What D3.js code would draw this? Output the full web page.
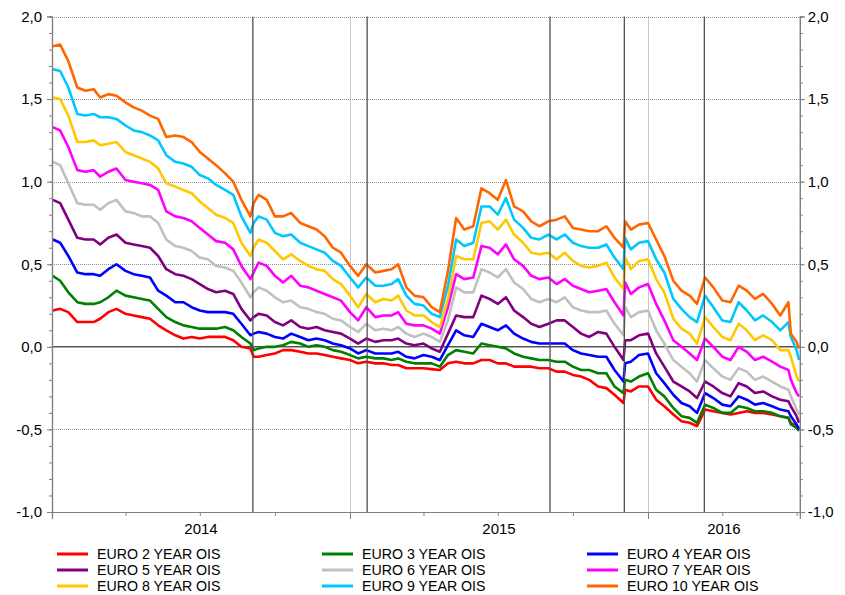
<!DOCTYPE html>
<html>
<head>
<meta charset="utf-8">
<script src="https://cdn.jsdelivr.net/npm/d3@7"></script>
<style>
body { margin:0; background:#fff; }
svg { font-family: "Liberation Sans", Arial, sans-serif; }
</style>
</head>
<body>
<svg class="svg"></svg>
<script>
let dates = ["2014-01-02","2014-01-11","2014-01-21","2014-02-01","2014-02-11","2014-02-21","2014-03-01","2014-03-11","2014-03-21",
  "2014-04-01","2014-04-11","2014-04-21","2014-05-01","2014-05-11","2014-05-21","2014-06-01","2014-06-11","2014-06-21",
  "2014-07-01","2014-07-11","2014-07-21","2014-08-01","2014-08-11","2014-08-21","2014-09-01","2014-09-05","2014-09-11","2014-09-21",
  "2014-10-01","2014-10-11","2014-10-21","2014-11-01","2014-11-11","2014-11-21","2014-12-01","2014-12-11","2014-12-21",
  "2015-01-01","2015-01-11","2015-01-21","2015-02-01","2015-02-11","2015-02-21","2015-03-01","2015-03-11","2015-03-21",
  "2015-04-01","2015-04-11","2015-04-21","2015-05-01","2015-05-11","2015-05-21","2015-06-01","2015-06-11","2015-06-21",
  "2015-07-01","2015-07-11","2015-07-21","2015-08-01","2015-08-11","2015-08-21","2015-09-01","2015-09-11","2015-09-21",
  "2015-10-01","2015-10-11","2015-10-21","2015-11-01","2015-11-11","2015-11-21","2015-12-02","2015-12-04","2015-12-11","2015-12-21",
  "2016-01-01","2016-01-11","2016-01-21","2016-02-01","2016-02-11","2016-02-21","2016-03-01","2016-03-11","2016-03-21",
  "2016-04-01","2016-04-11","2016-04-21","2016-05-01","2016-05-11","2016-05-21","2016-06-01","2016-06-11","2016-06-21","2016-06-24",
  "2016-07-01","2016-07-04"]

let ois2 = [0.22,0.23,0.21,0.15,0.15,0.15,0.17,0.21,0.23,0.20,0.19,0.18,0.17,0.13,0.10,0.07,
  0.05,0.06,0.05,0.06,0.06,0.06,0.04,0.00,-0.01,-0.06,-0.06,-0.05,-0.04,-0.02,-0.02,-0.03,
  -0.04,-0.04,-0.05,-0.06,-0.07,-0.08,-0.10,-0.09,-0.10,-0.10,-0.11,-0.11,-0.13,-0.13,-0.13,
  -0.135,-0.14,-0.10,-0.09,-0.10,-0.10,-0.08,-0.08,-0.10,-0.10,-0.12,-0.12,-0.12,-0.13,-0.13,
  -0.15,-0.15,-0.17,-0.18,-0.20,-0.24,-0.25,-0.29,-0.34,-0.26,-0.27,-0.24,-0.24,-0.32,-0.36,-0.41,
  -0.45,-0.46,-0.48,-0.38,-0.39,-0.40,-0.41,-0.40,-0.39,-0.40,-0.40,-0.41,-0.42,-0.43,-0.46,-0.48,-0.49]
let ois3 = [0.43,0.40,0.33,0.27,0.26,0.26,0.27,0.30,0.34,0.31,0.30,0.29,0.28,0.23,0.18,0.15,
  0.13,0.12,0.11,0.11,0.11,0.12,0.10,0.06,0.02,-0.02,-0.01,0.00,0.00,0.01,0.03,0.02,
  0.00,0.01,0.00,-0.02,-0.03,-0.05,-0.07,-0.06,-0.07,-0.07,-0.08,-0.07,-0.09,-0.10,-0.10,
  -0.10,-0.12,-0.05,-0.02,-0.03,-0.04,0.02,0.01,0.00,-0.01,-0.04,-0.06,-0.07,-0.08,-0.08,
  -0.09,-0.09,-0.12,-0.14,-0.14,-0.16,-0.16,-0.24,-0.28,-0.20,-0.21,-0.18,-0.16,-0.26,-0.30,-0.37,
  -0.42,-0.43,-0.46,-0.35,-0.37,-0.40,-0.40,-0.36,-0.37,-0.39,-0.39,-0.40,-0.42,-0.43,-0.47,-0.49,-0.51]
let ois4 = [0.65,0.63,0.55,0.45,0.44,0.44,0.43,0.47,0.50,0.46,0.44,0.43,0.42,0.34,0.31,0.27,
  0.27,0.24,0.22,0.21,0.21,0.21,0.20,0.14,0.07,0.08,0.09,0.08,0.06,0.05,0.08,0.06,
  0.04,0.05,0.04,0.02,0.01,-0.01,-0.04,-0.02,-0.04,-0.04,-0.04,-0.03,-0.06,-0.07,-0.05,
  -0.06,-0.08,0.01,0.10,0.07,0.06,0.14,0.12,0.10,0.13,0.08,0.05,0.03,0.02,0.02,
  0.02,0.02,-0.02,-0.04,-0.05,-0.06,-0.06,-0.14,-0.21,-0.10,-0.09,-0.05,-0.04,-0.16,-0.22,-0.29,
  -0.34,-0.36,-0.40,-0.28,-0.31,-0.35,-0.36,-0.30,-0.32,-0.35,-0.34,-0.36,-0.38,-0.39,-0.42,-0.47,-0.50]
let ois5 = [0.89,0.87,0.77,0.66,0.65,0.65,0.62,0.66,0.68,0.63,0.62,0.61,0.60,0.55,0.47,0.44,
  0.43,0.41,0.38,0.35,0.33,0.34,0.32,0.23,0.16,0.18,0.20,0.19,0.15,0.13,0.16,0.12,
  0.11,0.12,0.10,0.09,0.08,0.05,0.02,0.05,0.03,0.04,0.04,0.05,0.02,0.01,0.02,
  -0.01,-0.03,0.08,0.19,0.18,0.18,0.31,0.29,0.26,0.30,0.22,0.18,0.14,0.12,0.14,
  0.16,0.16,0.12,0.08,0.06,0.09,0.08,0.00,-0.08,0.04,0.04,0.07,0.08,-0.04,-0.12,-0.21,
  -0.24,-0.27,-0.31,-0.21,-0.24,-0.28,-0.30,-0.22,-0.24,-0.28,-0.27,-0.30,-0.32,-0.33,-0.36,-0.42,-0.46]
let ois6 = [1.12,1.10,0.99,0.87,0.86,0.86,0.83,0.87,0.89,0.82,0.81,0.79,0.79,0.75,0.65,0.61,
  0.60,0.58,0.54,0.53,0.49,0.48,0.46,0.39,0.30,0.33,0.36,0.34,0.30,0.27,0.28,0.24,
  0.23,0.21,0.20,0.17,0.16,0.12,0.09,0.14,0.10,0.11,0.10,0.12,0.08,0.06,0.08,
  0.06,0.03,0.16,0.36,0.33,0.33,0.47,0.45,0.42,0.47,0.39,0.35,0.29,0.27,0.29,
  0.27,0.30,0.24,0.22,0.21,0.21,0.22,0.14,0.07,0.24,0.18,0.21,0.22,0.10,0.02,-0.08,
  -0.12,-0.16,-0.21,-0.08,-0.13,-0.18,-0.20,-0.13,-0.15,-0.20,-0.18,-0.21,-0.24,-0.26,-0.30,-0.38,-0.41]
let ois7 = [1.33,1.31,1.21,1.07,1.06,1.07,1.03,1.06,1.08,1.01,1.00,0.99,0.98,0.95,0.82,0.79,
  0.78,0.76,0.72,0.68,0.64,0.63,0.59,0.49,0.41,0.45,0.51,0.49,0.43,0.39,0.43,0.37,
  0.36,0.34,0.32,0.30,0.28,0.21,0.16,0.24,0.18,0.19,0.19,0.21,0.14,0.13,0.13,
  0.11,0.08,0.24,0.44,0.41,0.42,0.61,0.60,0.56,0.62,0.53,0.49,0.43,0.41,0.42,
  0.38,0.41,0.37,0.35,0.33,0.34,0.35,0.27,0.19,0.39,0.32,0.36,0.38,0.26,0.16,0.04,
  0.00,-0.04,-0.08,0.05,0.00,-0.06,-0.08,0.00,-0.03,-0.08,-0.06,-0.09,-0.12,-0.14,-0.20,-0.28,-0.30]
let ois8 = [1.51,1.50,1.40,1.24,1.24,1.25,1.22,1.23,1.24,1.18,1.16,1.14,1.12,1.08,0.99,0.97,
  0.95,0.93,0.88,0.84,0.80,0.78,0.75,0.63,0.55,0.60,0.65,0.63,0.58,0.53,0.56,0.52,
  0.49,0.47,0.46,0.41,0.38,0.31,0.24,0.32,0.27,0.29,0.28,0.31,0.22,0.19,0.19,
  0.15,0.12,0.29,0.55,0.53,0.53,0.75,0.76,0.71,0.77,0.68,0.63,0.57,0.56,0.57,
  0.53,0.57,0.52,0.49,0.48,0.49,0.51,0.42,0.35,0.54,0.47,0.52,0.53,0.41,0.33,0.17,
  0.11,0.08,0.02,0.18,0.12,0.06,0.04,0.14,0.10,0.04,0.07,0.04,-0.02,-0.02,-0.06,-0.18,-0.21]
let ois9 = [1.68,1.67,1.57,1.41,1.40,1.41,1.39,1.39,1.38,1.34,1.31,1.30,1.28,1.25,1.16,1.12,
  1.11,1.09,1.04,1.02,0.98,0.95,0.92,0.79,0.69,0.75,0.79,0.77,0.69,0.67,0.68,0.63,
  0.61,0.59,0.57,0.52,0.49,0.42,0.36,0.42,0.37,0.37,0.38,0.41,0.31,0.26,0.25,
  0.20,0.18,0.37,0.65,0.61,0.63,0.85,0.85,0.80,0.90,0.77,0.72,0.66,0.65,0.68,
  0.65,0.68,0.63,0.61,0.60,0.60,0.62,0.54,0.47,0.66,0.59,0.63,0.64,0.53,0.45,0.29,
  0.23,0.18,0.15,0.31,0.24,0.16,0.15,0.27,0.22,0.16,0.19,0.15,0.10,0.15,0.06,-0.02,-0.08]
let ois10 = [1.82,1.83,1.73,1.57,1.55,1.56,1.51,1.53,1.52,1.48,1.45,1.43,1.40,1.38,1.27,1.28,
  1.27,1.24,1.18,1.14,1.10,1.05,1.00,0.89,0.79,0.87,0.92,0.89,0.79,0.79,0.81,0.75,
  0.73,0.71,0.67,0.60,0.57,0.49,0.43,0.50,0.45,0.46,0.47,0.50,0.36,0.31,0.30,
  0.24,0.21,0.46,0.78,0.71,0.73,0.96,0.93,0.89,1.01,0.85,0.82,0.76,0.73,0.76,
  0.77,0.79,0.72,0.71,0.70,0.70,0.73,0.66,0.60,0.76,0.71,0.74,0.75,0.65,0.55,0.40,
  0.34,0.31,0.26,0.42,0.36,0.28,0.27,0.37,0.34,0.29,0.32,0.26,0.19,0.27,0.08,0.03,-0.01]

let seriesNames = ["EURO 2 YEAR OIS","EURO 3 YEAR OIS","EURO 4 YEAR OIS","EURO 5 YEAR OIS","EURO 6 YEAR OIS",
  "EURO 7 YEAR OIS","EURO 8 YEAR OIS","EURO 9 YEAR OIS","EURO 10 YEAR OIS"]
let seriesValues = [ois2, ois3, ois4, ois5, ois6, ois7, ois8, ois9, ois10]
let colorArr = ["#ff0000","#008000","#0000ff","#800080","#c0c0c0","#ff00ff","#ffc800","#00c8ff","#ff6600"]
let eventDates = ["2014-09-04","2015-01-22","2015-09-03","2015-12-03","2016-03-10"]
let yTicks = [-1,-0.5,0,0.5,1,1.5,2]
let years = [2014, 2015, 2016]

let parse = d3.utcParse("%Y-%m-%d")
let svg = d3.select(".svg").attr("width",845).attr("height",595)

let xStart = parse("2014-01-01")
let xEnd = parse("2016-07-05")
let xScale = d3.scaleUtc().domain([xStart, xEnd]).range([52, 52 + 916*298/365])
let yScale = d3.scaleLinear().domain([-1, 2]).range([512, 16.5])
let plotLeft = 52, plotRight = xScale.range()[1], plotTop = yScale(2), plotBottom = yScale(-1)
let fmt = (d) => d3.format(".1f")(d).replace(".", ",").replace("\u2212", "-")

// horizontal grid
svg.append("g")
  .selectAll("line")
  .data(yTicks.filter(d => d !== 0 && d !== -1))
  .enter()
  .append("line")
  .attr("x1", plotLeft).attr("x2", plotRight)
  .attr("y1", d => Math.round(yScale(d)) + 0.5).attr("y2", d => Math.round(yScale(d)) + 0.5)
  .attr("stroke", "#909090").attr("stroke-width", 1)
  .attr("stroke-dasharray", "1,1")

// year grid
svg.append("g")
  .selectAll("line")
  .data([2015, 2016])
  .enter()
  .append("line")
  .attr("x1", d => Math.round(xScale(Date.UTC(d,0,1))) + 0.5)
  .attr("x2", d => Math.round(xScale(Date.UTC(d,0,1))) + 0.5)
  .attr("y1", plotTop).attr("y2", plotBottom)
  .attr("stroke", "#909090").attr("stroke-width", 1)
  .attr("stroke-dasharray", "1,1")

svg.append("line")
  .attr("x1", plotLeft).attr("x2", plotRight)
  .attr("y1", yScale(0)).attr("y2", yScale(0))
  .attr("stroke", "#000").attr("stroke-width", 1)

// series
let line = d3.line()
  .x((d, i) => xScale(parse(dates[i])))
  .y(d => yScale(d))

svg.append("g")
  .selectAll("path")
  .data(seriesValues)
  .enter()
  .append("path")
  .attr("d", line)
  .attr("fill", "none")
  .attr("stroke", (d, i) => colorArr[i])
  .attr("stroke-width", 2.6)
  .attr("stroke-linejoin", "round")

// event lines
svg.append("g")
  .selectAll("line")
  .data(eventDates)
  .enter()
  .append("line")
  .attr("x1", d => xScale(parse(d))).attr("x2", d => xScale(parse(d)))
  .attr("y1", plotTop).attr("y2", plotBottom)
  .attr("stroke", "#505050").attr("stroke-width", 1.3)

// axes
let minorY = d3.range(-10, 21).map(d => d / 10)
let leftAxis = d3.axisLeft(yScale).tickValues(minorY).tickSize(3).tickFormat("")
let rightAxis = d3.axisRight(yScale).tickValues(minorY).tickSize(3).tickFormat("")
svg.append("g").attr("transform", "translate(" + plotLeft + ",0)").call(leftAxis)
svg.append("g").attr("transform", "translate(" + plotRight + ",0)").call(rightAxis)
svg.append("g").attr("transform", "translate(" + plotLeft + ",0)")
  .call(d3.axisLeft(yScale).tickValues(yTicks).tickSize(5).tickPadding(5).tickFormat(fmt))
svg.append("g").attr("transform", "translate(" + plotRight + ",0)")
  .call(d3.axisRight(yScale).tickValues(yTicks).tickSize(5).tickPadding(3).tickFormat(fmt))

let quarters = d3.utcMonth.every(3).range(xStart, xEnd)
svg.append("g").attr("transform", "translate(0," + plotBottom + ")")
  .call(d3.axisBottom(xScale).tickValues(quarters).tickSize(4).tickFormat(""))
svg.append("g").attr("transform", "translate(0," + plotBottom + ")")
  .call(d3.axisBottom(xScale).tickValues([new Date(Date.UTC(2015,0,1)), new Date(Date.UTC(2016,0,1))]).tickSize(7).tickFormat(""))

svg.selectAll(".domain").attr("stroke", "#808080").attr("stroke-width", 1.2)
svg.selectAll(".tick line").attr("stroke", "#808080")
svg.selectAll(".tick text").attr("font-size", 15).attr("fill", "#000")
  .attr("font-family", "'Liberation Sans', Arial, sans-serif")

svg.append("g")
  .selectAll("text")
  .data(years)
  .enter()
  .append("text")
  .attr("x", d => {
    let a = Math.max(xScale(Date.UTC(d,0,1)), plotLeft)
    let b = Math.min(xScale(Date.UTC(d+1,0,1)), plotRight)
    return (a + b) / 2
  })
  .attr("y", plotBottom + 22)
  .attr("text-anchor", "middle")
  .attr("font-size", 15)
  .text(d => d)

// legend
let legend = svg.append("g")
  .selectAll("g")
  .data(seriesNames)
  .enter()
  .append("g")
  .attr("transform", (d, i) => "translate(" + (57 + (i % 3) * 265) + "," + (554 + Math.floor(i / 3) * 16) + ")")

legend.append("line")
  .attr("x1", 0).attr("x2", 31)
  .attr("stroke", (d, i) => colorArr[i])
  .attr("stroke-width", 3)

legend.append("text")
  .attr("x", 40)
  .attr("y", 5)
  .attr("font-size", 14.2)
  .text(d => d)
</script>
</body>
</html>
